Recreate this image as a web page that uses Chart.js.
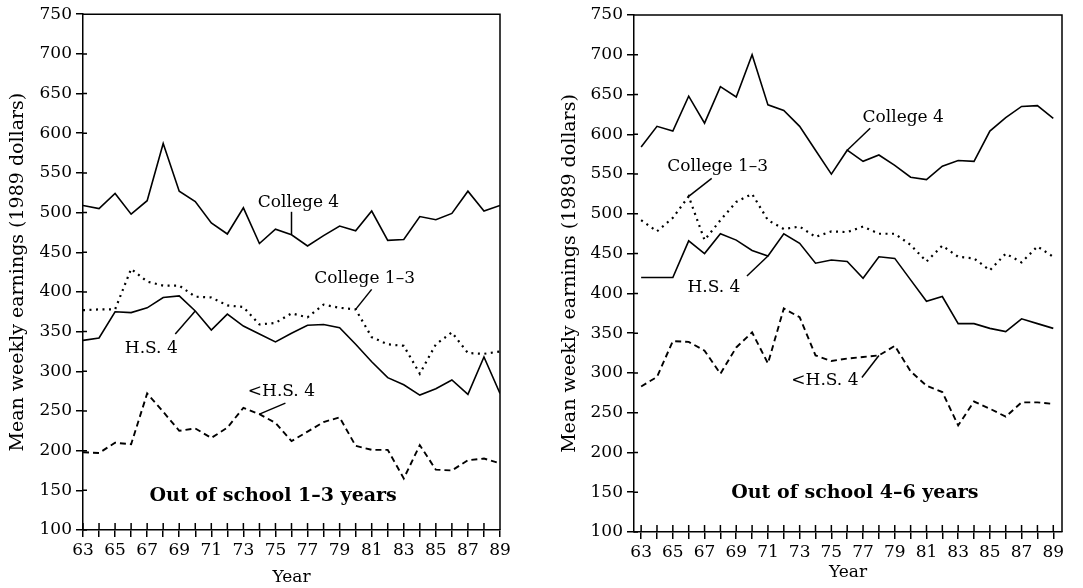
<!DOCTYPE html>
<html>
<head>
<meta charset="utf-8">
<title>Mean weekly earnings by schooling</title>
<script src="https://cdn.jsdelivr.net/npm/chart.js@4.4.1/dist/chart.umd.min.js"></script>
<style>
  html, body { margin: 0; padding: 0; background: #fff; }
  #wrap { position: relative; width: 1083px; height: 588px; }
  canvas { position: absolute; top: 0; }
  #chartLeft { left: 0; }
  #chartRight { left: 540px; }
</style>
</head>
<body>
<div id="wrap">
  <canvas id="chartLeft" width="530" height="588"></canvas>
  <canvas id="chartRight" width="543" height="588"></canvas>
</div>
<script>
// Years on the x axis (19xx)
const years = [63, 64, 65, 66, 67, 68, 69, 70, 71, 72, 73, 74, 75, 76, 77,
               78, 79, 80, 81, 82, 83, 84, 85, 86, 87, 88, 89];
const yTicks = [100, 150, 200, 250, 300, 350, 400, 450, 500, 550, 600, 650, 700, 750];

// Out of school 1-3 years
const college4Early  = [509, 505, 524, 498, 515, 587, 527, 514, 487, 473, 506, 461, 479, 472,
                        458, 471, 483, 477, 502, 465, 466, 495, 491, 499, 527, 502, 509];
const college13Early = [377, 378, 378, 429, 413, 408, 408, 394, 393, 383, 381, 359, 361, 373,
                        368, 384, 380, 378, 343, 334, 332, 297, 334, 349, 323, 322, 325];
const hs4Early       = [339, 342, 375, 374, 380, 393, 395, 376, 352, 372, 357, 347, 337, 348,
                        358, 359, 355, 334, 312, 292, 283, 270, 278, 289, 271, 318, 272];
const lessHs4Early   = [198, 197, 210, 208, 272, 249, 225, 228, 216, 229, 254, 246, 235, 212,
                        224, 236, 242, 206, 201, 201, 165, 207, 176, 175, 188, 190, 184];

// Out of school 4-6 years
const college4Late   = [584, 610, 604, 648, 614, 660, 647, 700, 637, 630, 610, 580, 550, 580,
                        566, 574, 561, 546, 543, 560, 567, 566, 604, 621, 635, 636, 620];
const college13Late  = [492, 478, 495, 522, 467, 492, 515, 525, 492, 481, 484, 471, 478, 477,
                        484, 475, 475, 461, 440, 460, 446, 444, 429, 450, 439, 459, 446];
const hs4Late        = [420, 420, 420, 466, 450, 475, 467, 454, 447, 475, 463, 438, 442, 440,
                        419, 446, 444, 417, 390, 396, 362, 362, 356, 352, 368, 362, 356];
const lessHs4Late    = [283, 295, 340, 339, 328, 299, 332, 351, 312, 381, 370, 322, 315, 318,
                        320, 322, 334, 302, 284, 276, 234, 264, 255, 245, 263, 263, 261];

const serif = '"DejaVu Serif", "Liberation Serif", serif';

// Build the four line series for one panel
function makeDatasets(c4, c13, hs4, lessHs4) {
    const pts = arr => years.map((yr, i) => ({ x: yr, y: arr[i] }));
    return [
        { label: 'College 4', data: pts(c4), borderWidth: 1.6 },
        { label: 'College 1–3', data: pts(c13), borderWidth: 2.2, borderDash: [2, 4.5] },
        { label: 'H.S. 4', data: pts(hs4), borderWidth: 1.6 },
        { label: '<H.S. 4', data: pts(lessHs4), borderWidth: 1.9, borderDash: [6, 4] }
    ].map(d => Object.assign({
        borderColor: '#000',
        backgroundColor: '#000',
        pointRadius: 0,
        tension: 0,
        fill: false
    }, d));
}

// Top/right sides of the box and the inner arms of the "+" ticks
const frameAndTicks = {
    id: 'frameAndTicks',
    afterDraw(chart) {
        const { ctx, chartArea: a, scales } = chart;
        ctx.save();
        ctx.strokeStyle = '#000';
        ctx.lineWidth = 1.5;
        ctx.beginPath();
        ctx.moveTo(a.left, a.top);
        ctx.lineTo(a.right, a.top);
        ctx.lineTo(a.right, a.bottom);
        scales.y.ticks.forEach(t => {
            const y = scales.y.getPixelForValue(t.value);
            ctx.moveTo(a.left, y);
            ctx.lineTo(a.left + 4, y);
        });
        scales.x.ticks.forEach(t => {
            const x = scales.x.getPixelForValue(t.value);
            ctx.moveTo(x, a.bottom);
            ctx.lineTo(x, a.bottom - 7);
        });
        ctx.stroke();
        ctx.restore();
    }
};

// Series names with leader lines, plus the bold caption inside the plot
const seriesLabels = {
    id: 'seriesLabels',
    afterDatasetsDraw(chart, args, opts) {
        const { ctx, chartArea: a, scales } = chart;
        ctx.save();
        ctx.fillStyle = '#000';
        ctx.strokeStyle = '#000';
        ctx.lineWidth = 1.5;
        ctx.textAlign = 'center';
        ctx.textBaseline = 'middle';
        ctx.font = '17px ' + serif;

        (opts.items || []).forEach(item => {
            const idx = years.indexOf(item.year);
            const value = chart.data.datasets[item.series].data[idx].y;
            const px = scales.x.getPixelForValue(item.year);
            const py = scales.y.getPixelForValue(value);
            ctx.beginPath();
            ctx.moveTo(px, py);
            ctx.lineTo(px + item.lx, py + item.ly);
            ctx.stroke();
            ctx.fillText(item.text, px + item.tx, py + item.ty);
        });

        if (opts.caption) {
            ctx.font = 'bold 19px ' + serif;
            ctx.fillText(opts.caption.text,
                a.left + opts.caption.fx * a.width,
                a.bottom - opts.caption.dy);
        }
        ctx.restore();
    }
};

function buildChart(canvasId, datasets, panel) {
    const ctx = document.getElementById(canvasId);

    const config = {
        type: 'line',
        data: { datasets: datasets },
        options: {
            responsive: false,
            animation: false,
            layout: {
                padding: { top: panel.top, right: panel.right, left: 0, bottom: 0 }
            },
            plugins: {
                legend: { display: false },
                tooltip: { enabled: false },
                seriesLabels: { items: panel.items, caption: panel.caption }
            },
            scales: {
                x: {
                    type: 'linear',
                    min: panel.xMin,
                    max: panel.xMax,
                    afterBuildTicks: axis => {
                        axis.ticks = years.map(v => ({ value: v }));
                    },
                    afterFit: scale => { scale.height = panel.xHeight; },
                    border: { color: '#000', width: 1.5 },
                    grid: {
                        drawOnChartArea: false,
                        drawTicks: true,
                        tickLength: 7,
                        color: '#000',
                        lineWidth: 1.5
                    },
                    ticks: {
                        autoSkip: false,
                        maxRotation: 0,
                        padding: 3,
                        color: '#000',
                        font: { family: serif, size: 17 },
                        callback: v => (v % 2 === 1 ? String(v) : '')
                    },
                    title: {
                        display: true,
                        text: 'Year',
                        color: '#000',
                        font: { family: serif, size: 17 },
                        padding: { top: 0, bottom: panel.yearPad }
                    }
                },
                y: {
                    min: 100,
                    max: 750,
                    afterBuildTicks: axis => {
                        axis.ticks = yTicks.map(v => ({ value: v }));
                    },
                    afterFit: scale => { scale.width = panel.yWidth; },
                    border: { color: '#000', width: 1.5 },
                    grid: {
                        drawOnChartArea: false,
                        drawTicks: true,
                        tickLength: 7,
                        color: '#000',
                        lineWidth: 1.5
                    },
                    ticks: {
                        padding: 4,
                        color: '#000',
                        font: { family: serif, size: 17 }
                    },
                    title: {
                        display: true,
                        text: 'Mean weekly earnings (1989 dollars)',
                        color: '#000',
                        font: { family: serif, size: 19 },
                        padding: { top: panel.titlePad, bottom: 0 }
                    }
                }
            }
        },
        plugins: [frameAndTicks, seriesLabels]
    };

    return new Chart(ctx, config);
}

document.addEventListener('DOMContentLoaded', function () {
    buildChart('chartLeft',
        makeDatasets(college4Early, college13Early, hs4Early, lessHs4Early),
        {
            xMin: 63, xMax: 89, top: 10, right: 30, yWidth: 83, xHeight: 58,
            titlePad: 7, yearPad: 0,
            caption: { text: 'Out of school 1–3 years', fx: 0.456, dy: 34 },
            items: [
                { text: 'College 4', series: 0, year: 76, tx: 7, ty: -32, lx: 0, ly: -23 },
                { text: 'College 1–3', series: 1, year: 80, tx: 9, ty: -31, lx: 16, ly: -20 },
                { text: 'H.S. 4', series: 2, year: 70, tx: -44, ty: 38, lx: -20, ly: 23 },
                { text: '<H.S. 4', series: 3, year: 74, tx: 22, ty: -23, lx: 26, ly: -11 }
            ]
        });

    buildChart('chartRight',
        makeDatasets(college4Late, college13Late, hs4Late, lessHs4Late),
        {
            xMin: 62.55, xMax: 89.55, top: 15, right: 21, yWidth: 94, xHeight: 56,
            titlePad: 19, yearPad: 5,
            caption: { text: 'Out of school 4–6 years', fx: 0.516, dy: 39 },
            items: [
                { text: 'College 4', series: 0, year: 76, tx: 56, ty: -33, lx: 23, ly: -22 },
                { text: 'College 1–3', series: 1, year: 66, tx: 29, ty: -30, lx: 23, ly: -18 },
                { text: 'H.S. 4', series: 2, year: 71, tx: -54, ty: 32, lx: -21, ly: 20 },
                { text: '<H.S. 4', series: 3, year: 78, tx: -54, ty: 25, lx: -17, ly: 22 }
            ]
        });
});
</script>
</body>
</html>
